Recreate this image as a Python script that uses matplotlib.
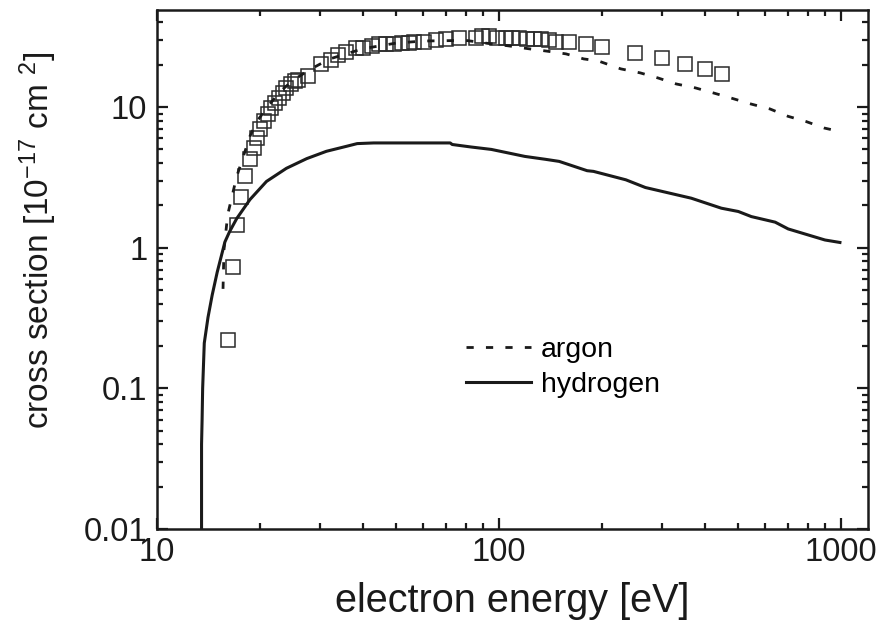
import matplotlib
matplotlib.use("Agg")
import matplotlib.pyplot as plt
from matplotlib.ticker import FixedLocator, FixedFormatter, LogLocator, NullFormatter

plt.rcParams['font.family'] = ['Liberation Sans', 'DejaVu Sans']
plt.rcParams['mathtext.default'] = 'regular'

# hydrogen cross section (solid line)
h_energy = [13.5, 13.5, 13.55, 13.6, 13.75, 14.1, 14.5, 15.0, 15.8, 16.3, 17.1,
            18.7, 20.9, 23.9, 27.4, 31.3, 35.8, 38.5, 43, 72, 73, 83, 95, 119,
            137, 150, 181, 189, 235, 268, 365, 447, 501, 547, 642, 701, 898, 993]
h_sigma = [0.01, 0.04, 0.06, 0.1, 0.21, 0.32, 0.46, 0.67, 1.10, 1.30, 1.61,
           2.2, 2.96, 3.67, 4.3, 4.85, 5.26, 5.5, 5.56, 5.56, 5.42, 5.2, 5.0, 4.46,
           4.25, 4.11, 3.53, 3.49, 3.04, 2.68, 2.25, 1.91, 1.81, 1.665, 1.52,
           1.36, 1.135, 1.09]

# argon cross section (dashed line)
ar_energy = [15.6, 15.7, 16.1, 17.1, 18.7, 19.6, 21, 23, 25, 28, 32, 40, 50,
             60, 80, 93.5, 106, 122, 138, 157, 177, 195, 227, 259, 292, 330,
             375, 424, 477, 547, 620, 700, 790, 893, 993]
ar_sigma = [0.51, 0.97, 1.72, 3.2, 6.2, 7.9, 10, 13, 15.5, 18.5, 22, 26, 28.5,
            29.5, 29.8, 28.3, 27.3, 26, 25, 23.9, 22, 21.3, 18.7, 17.5, 16.1, 14.6,
            13.7, 12.6, 11.6, 10.5, 9.7, 8.6, 7.9, 7.1, 6.7]

# measured argon data (open squares)
exp_energy = [16.1, 16.65, 17.1, 17.6, 18.05, 18.7, 19.2, 19.6, 20.0, 20.5,
              21.1, 21.6, 22.2, 22.8, 23.3, 23.9, 24.6, 25.3, 25.9, 27.7, 30.1,
              32.2, 33.9, 35.8, 38.3, 39.9, 42.6, 44.7, 46.8, 49.4, 52.1, 54.7,
              56.5, 60.4, 65.5, 70.0, 76.4, 85.7, 89.2, 93.5, 98.7, 104.8, 109.1,
              114.4, 120.6, 126.5, 132.6, 140, 146.6, 160, 180, 200, 250, 300,
              350, 400, 450]
exp_sigma = [0.22, 0.73, 1.46, 2.31, 3.21, 4.25, 5.1, 6.0, 6.96, 7.94,
             8.91, 9.84, 10.7, 11.6, 12.6, 13.7, 14.6, 15.3, 15.6, 16.6, 20.3,
             21.7, 23.5, 24.7, 26.4, 26.4, 27.3, 28.2, 28.2, 28.2, 28.7, 28.7,
             29.1, 29.1, 30.1, 30.6, 31.1, 31.1, 32.1, 32.1, 31.1, 31.1, 31.1,
             31.1, 30.6, 30.6, 30.6, 30.1, 29.1, 29.1, 28.2, 26.8, 24.3, 22.4,
             20.3, 18.7, 17.2]

fig = plt.figure(figsize=(8.96, 6.3), dpi=100)
ax = fig.add_axes([0.1752, 0.1603, 0.7936, 0.8238])

ax.plot(exp_energy, exp_sigma, linestyle='none', marker='s', markersize=10,
        markerfacecolor='none', markeredgecolor='#2a2a2a', markeredgewidth=1.1)
ax.plot(ar_energy, ar_sigma, color='#1a1a1a', lw=2.0, linestyle=(0, (2.6, 4.4)),
        label='argon')
ax.plot(h_energy, h_sigma, color='#1a1a1a', lw=2.2, label='hydrogen')

ax.set_xscale('log')
ax.set_yscale('log')
ax.set_xlim(10, 1200)
ax.set_ylim(0.01, 49)

ax.xaxis.set_major_locator(FixedLocator([10, 100, 1000]))
ax.xaxis.set_major_formatter(FixedFormatter(['10', '100', '1000']))
ax.yaxis.set_major_locator(FixedLocator([0.01, 0.1, 1, 10]))
ax.yaxis.set_major_formatter(FixedFormatter(['0.01', '0.1', '1', '10']))
ax.xaxis.set_minor_locator(LogLocator(base=10, subs=range(2, 10)))
ax.yaxis.set_minor_locator(LogLocator(base=10, subs=range(2, 10)))
ax.xaxis.set_minor_formatter(NullFormatter())
ax.yaxis.set_minor_formatter(NullFormatter())

ax.tick_params(which='both', direction='in', top=True, right=True,
               labelsize=23.5, colors='#1a1a1a', width=1.6)
ax.tick_params(axis='x', which='major', pad=6)
ax.tick_params(axis='y', which='major', pad=7)
ax.tick_params(which='major', length=8)
ax.tick_params(which='minor', length=4)
for s in ax.spines.values():
    s.set_linewidth(1.8)
    s.set_color('#1a1a1a')

ax.set_xlabel('electron energy [eV]', fontsize=28.5, color='#1a1a1a', labelpad=10)
ax.set_ylabel('cross section [10$^{-17}$ cm $^{2}$]', fontsize=24,
              color='#1a1a1a')
ax.yaxis.set_label_coords(-0.138, 0.557)

ax.legend(loc='upper left', bbox_to_anchor=(0.422, 0.387), frameon=False,
          fontsize=20.5, handlelength=2.3, handletextpad=0.35, labelspacing=0.32,
          borderaxespad=0.0, borderpad=0.3)

fig.savefig('out.png', dpi=100)
